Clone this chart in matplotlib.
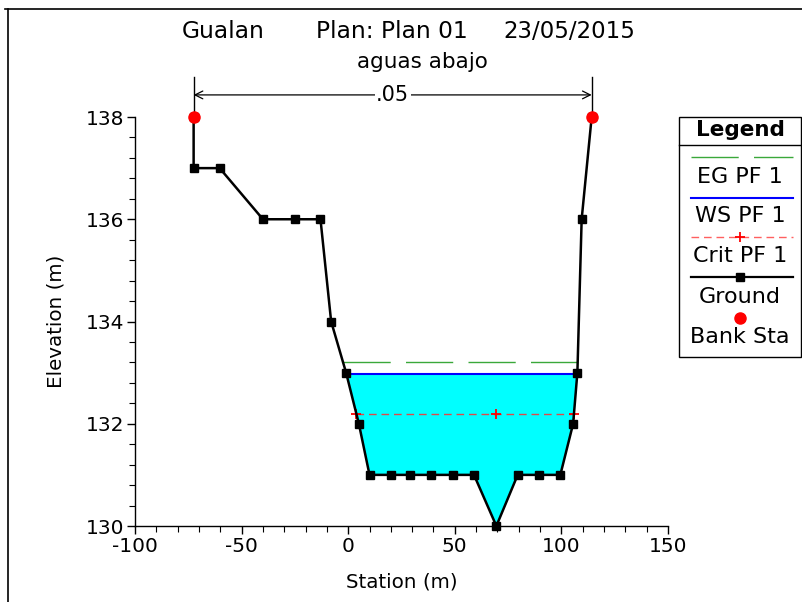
import numpy as np
import matplotlib
matplotlib.use("Agg")
import matplotlib.pyplot as plt
from matplotlib.lines import Line2D
from matplotlib.patches import Rectangle

plt.rcParams['font.family'] = ['DejaVu Sans']
plt.rcParams['axes.unicode_minus'] = False

# ---- data ----
ground_x = [-72.5, -72.5, -60.3, -40.0, -25.0, -13.0, -8.0, -1.0, 5.0, 10.0, 20.0, 29.0,
            39.0, 49.0, 59.0, 69.5, 79.5, 89.5, 99.5, 105.5, 107.5, 109.5, 114.2]
ground_y = [138.0, 137.0, 137.0, 136.0, 136.0, 136.0, 134.0, 133.0, 132.0, 131.0, 131.0, 131.0,
            131.0, 131.0, 131.0, 130.0, 131.0, 131.0, 131.0, 132.0, 133.0, 136.0, 138.0]
bank_x = [-72.5, 114.2]
bank_y = [138.0, 138.0]
ws_elev = 132.97
eg_elev = 133.2
crit_elev = 132.2
mannings_n = ".05"
title_parts = ["Gualan", "Plan: Plan 01", "23/05/2015"]
subtitle = "aguas abajo"
legend_labels = ["EG PF 1", "WS PF 1", "Crit PF 1", "Ground", "Bank Sta"]

W, H = 803, 602
fig = plt.figure(figsize=(W / 100, H / 100), dpi=100)

def fx(x):
    return x / W

def fy(y):
    return 1 - y / H

ax = fig.add_axes([fx(135), fy(526), fx(668) - fx(135), fy(117) - fy(526)])
ax.set_xlim(-100, 150)
ax.set_ylim(130, 138)

gx = np.array(ground_x)
gy = np.array(ground_y)


def crossings(level):
    xs = []
    for i in range(len(gx) - 1):
        y0, y1 = gy[i], gy[i + 1]
        if (y0 - level) * (y1 - level) < 0:
            t = (level - y0) / (y1 - y0)
            xs.append(gx[i] + t * (gx[i + 1] - gx[i]))
    return xs


# water fill
ax.fill_between(gx, gy, ws_elev, where=gy <= ws_elev, interpolate=True,
                color='#00ffff', lw=0, zorder=1)

ws_x = crossings(ws_elev)
ax.plot([ws_x[0], ws_x[-1]], [ws_elev, ws_elev], color='#0000ff', lw=1.5, zorder=3)

eg_x = crossings(eg_elev)
ax.plot([eg_x[0], eg_x[-1]], [eg_elev, eg_elev], color='#3aa83a', lw=1.0,
        dashes=(34, 11), zorder=3)

cr_x = crossings(crit_elev)
thal = gx[np.argmin(gy)]
ax.plot([cr_x[0], cr_x[-1]], [crit_elev, crit_elev], color='#e04848', lw=1.0,
        dashes=(5.5, 3.5), zorder=3)
ax.plot([cr_x[0], thal, cr_x[-1]], [crit_elev] * 3, ls='none', marker='+',
        color='red', ms=7, mew=1.3, zorder=4)

# ground
ax.plot(gx, gy, color='black', lw=1.8, marker='s', ms=6, zorder=5, clip_on=False)
ax.plot(bank_x, bank_y, ls='none', marker='o', color='red', ms=8, zorder=6, clip_on=False)

# mannings n annotation
trans = matplotlib.transforms.blended_transform_factory(ax.transData, ax.transAxes)
for bx in bank_x:
    ax.plot([bx, bx], [1.0, 1.098], color='black', lw=1.0, transform=trans, clip_on=False)
ya = 1.054
for bx in bank_x:
    ax.annotate('', xy=(bx, ya), xytext=(sum(bank_x) / 2, ya), xycoords=trans,
                textcoords=trans, arrowprops=dict(arrowstyle='->', lw=0.9, color='black',
                                                  shrinkA=0, shrinkB=0, mutation_scale=14))
ax.text(sum(bank_x) / 2, ya, mannings_n, transform=trans, ha='center', va='center',
        fontsize=15, zorder=7,
        bbox=dict(facecolor='white', edgecolor='none', pad=1))

# axes styling
for s in ['top', 'right']:
    ax.spines[s].set_visible(False)
for s in ['left', 'bottom']:
    ax.spines[s].set_linewidth(1.0)
ax.set_xticks(np.arange(-100, 151, 50))
ax.set_xticks(np.arange(-100, 151, 10), minor=True)
ax.set_yticks(np.arange(130, 138.1, 2))
ax.set_yticks(np.arange(130, 138.01, 0.4), minor=True)
ax.tick_params(which='major', direction='out', length=6, width=1, labelsize=14.5, pad=2)
ax.tick_params(which='minor', direction='out', length=4, width=0.8)
ax.set_xlabel('Station (m)', fontsize=14.3, labelpad=12)
ax.set_ylabel('Elevation (m)', fontsize=14.3, labelpad=14)

# titles
fig.text(fx(223), fy(32), title_parts[0], ha='center', va='center', fontsize=16.8)
fig.text(fx(392), fy(32), title_parts[1], ha='center', va='center', fontsize=16.8)
fig.text(fx(569), fy(32), title_parts[2], ha='center', va='center', fontsize=16.5)
fig.text(fx(422), fy(62), subtitle, ha='center', va='center', fontsize=15.5)

# figure frame (top and left)
fig.add_artist(Line2D([fx(5), 1.0], [fy(9), fy(9)], color='black', lw=1.2))
fig.add_artist(Line2D([fx(8), fx(8)], [fy(9), 0.0], color='black', lw=1.2))

# legend box
lx0, lx1, ly0, ly1 = 679, 801, 117, 357
fig.add_artist(Rectangle((fx(lx0), fy(ly1)), fx(lx1) - fx(lx0), fy(ly0) - fy(ly1),
                         transform=fig.transFigure, facecolor='white', edgecolor='black', lw=1))
cx = 740
fig.text(fx(cx), fy(130), 'Legend', ha='center', va='center', fontsize=15.5, fontweight='bold')
fig.add_artist(Line2D([fx(lx0), fx(lx1)], [fy(145), fy(145)], color='black', lw=1))
xs = [fx(691), fx(793)]
fig.add_artist(Line2D(xs, [fy(157)] * 2, color='#3aa83a', lw=1.0, dashes=(34, 11)))
fig.add_artist(Line2D(xs, [fy(198)] * 2, color='#0000ff', lw=1.5))
fig.add_artist(Line2D(xs, [fy(237)] * 2, color='#ff6060', lw=1.0, dashes=(5.5, 3.5)))
fig.add_artist(Line2D([fx(cx)], [fy(237)], ls='none', marker='+', color='red', ms=7, mew=1.3))
fig.add_artist(Line2D(xs, [fy(277)] * 2, color='black', lw=1.6))
fig.add_artist(Line2D([fx(cx)], [fy(277)], ls='none', marker='s', color='black', ms=6))
fig.add_artist(Line2D([fx(cx)], [fy(318)], ls='none', marker='o', color='red', ms=8))
for lab, yy in zip(legend_labels, [177, 216, 256, 297, 337]):
    fig.text(fx(cx), fy(yy), lab, ha='center', va='center', fontsize=16)

fig.savefig('out.png', dpi=100)
